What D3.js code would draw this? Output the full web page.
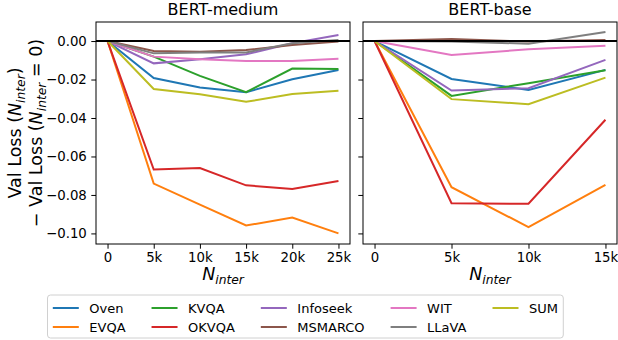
<!DOCTYPE html>
<html>
<head>
<meta charset="utf-8">
<script src="https://cdn.jsdelivr.net/npm/d3@7"></script>
<style>
  body { margin: 0; background: #fff; }
  svg { font-family: 'DejaVu Sans', sans-serif; display: block; }
</style>
</head>
<body>
<div id="chart"></div>
<script>
const categories = ['Oven', 'EVQA', 'KVQA', 'OKVQA', 'Infoseek', 'MSMARCO', 'WIT', 'LLaVA', 'SUM']
const colors = ['#1f77b4', '#ff7f0e', '#2ca02c', '#d62728', '#9467bd', '#8c564b', '#e377c2', '#7f7f7f', '#bcbd22']

// BERT-medium
const xMedium = [0, 5000, 10000, 15000, 20000, 25000]
const mediumOven = [0, -0.0192, -0.0242, -0.0266, -0.0199, -0.0150]
const mediumEVQA = [0, -0.0741, -0.0850, -0.0959, -0.0917, -0.1000]
const mediumKVQA = [0, -0.0081, -0.0181, -0.0266, -0.0143, -0.0145]
const mediumOKVQA = [0, -0.0668, -0.0660, -0.0750, -0.0769, -0.0727]
const mediumInfoseek = [0, -0.0116, -0.0095, -0.0069, -0.0012, 0.0031]
const mediumMSMARCO = [0, -0.0052, -0.0055, -0.0047, -0.0021, -0.0003]
const mediumWIT = [0, -0.0081, -0.0095, -0.0104, -0.0104, -0.0092]
const mediumLLaVA = [0, -0.0064, -0.0060, -0.0059, -0.0012, 0.0005]
const mediumSUM = [0, -0.0249, -0.0276, -0.0316, -0.0275, -0.0259]

// BERT-base
const xBase = [0, 5000, 10000, 15000]
const baseOven = [0, -0.0197, -0.0254, -0.0150]
const baseEVQA = [0, -0.0760, -0.0967, -0.0748]
const baseKVQA = [0, -0.0285, -0.0219, -0.0152]
const baseOKVQA = [0, -0.0843, -0.0846, -0.0409]
const baseInfoseek = [0, -0.0257, -0.0245, -0.0098]
const baseMSMARCO = [0, 0.0010, -0.0003, 0.0005]
const baseWIT = [0, -0.0073, -0.0043, -0.0024]
const baseLLaVA = [0, -0.0002, -0.0014, 0.0047]
const baseSUM = [0, -0.0302, -0.0328, -0.0190]

const yTicks = [0, -0.02, -0.04, -0.06, -0.08, -0.10]

const width = 618
const height = 340

const svg = d3
  .select('#chart')
  .append('svg')
  .attr('width', width)
  .attr('height', height)

const plotTop = 22
const plotBottom = 244
const tickFont = 13.3

const y = d3
  .scaleLinear()
  .domain([-0.1055, 0.0099])
  .range([plotBottom, plotTop])

const colorScale = d3.scaleOrdinal().domain(categories).range(colors)

const panels = [
  {
    title: 'BERT-medium',
    left: 96,
    right: 350,
    xs: xMedium,
    series: [mediumOven, mediumEVQA, mediumKVQA, mediumOKVQA, mediumInfoseek,
      mediumMSMARCO, mediumWIT, mediumLLaVA, mediumSUM],
    labels: true
  },
  {
    title: 'BERT-base',
    left: 363,
    right: 617,
    xs: xBase,
    series: [baseOven, baseEVQA, baseKVQA, baseOKVQA, baseInfoseek,
      baseMSMARCO, baseWIT, baseLLaVA, baseSUM],
    labels: false
  }
]

const fmtK = d => (d === 0 ? '0' : d / 1000 + 'k')
const fmtY = d => d3.format('.2f')(d).replace('-', '\u2212')

panels.forEach(function(p) {
  const xMax = d3.max(p.xs)
  const x = d3
    .scaleLinear()
    .domain([-0.05 * xMax, 1.05 * xMax])
    .range([p.left, p.right])

  const g = svg.append('g')

  const line = d3
    .line()
    .x((d, i) => x(p.xs[i]))
    .y(d => y(d))

  g.selectAll('path.series')
    .data(p.series)
    .enter()
    .append('path')
    .attr('class', 'series')
    .attr('d', d => line(d))
    .attr('fill', 'none')
    .attr('stroke', (d, i) => colorScale(categories[i]))
    .attr('stroke-width', 2)
    .attr('stroke-linejoin', 'miter')

  // zero line
  g.append('line')
    .attr('x1', p.left)
    .attr('x2', p.right)
    .attr('y1', y(0))
    .attr('y2', y(0))
    .attr('stroke', 'black')
    .attr('stroke-width', 2)

  // frame
  g.append('rect')
    .attr('x', p.left)
    .attr('y', plotTop)
    .attr('width', p.right - p.left)
    .attr('height', plotBottom - plotTop)
    .attr('fill', 'none')
    .attr('stroke', '#000')
    .attr('stroke-width', 1)

  const xAxis = g
    .append('g')
    .attr('transform', `translate(0,${plotBottom})`)
    .call(d3.axisBottom(x).tickValues(p.xs).tickFormat(fmtK).tickSize(4.7).tickPadding(4))
  xAxis.select('.domain').remove()

  const yAxis = g
    .append('g')
    .attr('transform', `translate(${p.left},0)`)
    .call(
      d3.axisLeft(y)
        .tickValues(yTicks)
        .tickFormat(p.labels ? fmtY : '')
        .tickSize(4.7)
        .tickPadding(4.5)
    )
  yAxis.select('.domain').remove()

  g.selectAll('.tick line').attr('stroke', '#000').attr('stroke-width', 1)
  g.selectAll('.tick text')
    .attr('font-size', tickFont)
    .attr('font-family', "'DejaVu Sans', sans-serif")
    .attr('fill', '#000')

  g.append('text')
    .attr('x', (p.left + p.right) / 2)
    .attr('y', 14.5)
    .attr('text-anchor', 'middle')
    .attr('font-size', 16)
    .text(p.title)

  const xl = g
    .append('text')
    .attr('x', (p.left + p.right) / 2)
    .attr('y', 280)
    .attr('text-anchor', 'middle')
    .attr('font-size', 17.5)
  xl.append('tspan').attr('font-style', 'italic').text('N')
  xl.append('tspan')
    .attr('font-style', 'italic')
    .attr('font-size', 12.3)
    .attr('dy', 4)
    .text('inter')
})

// y label, two lines
const yMid = (plotTop + plotBottom) / 2
function yLabel(xPos, prefix, suffix) {
  const t = svg
    .append('text')
    .attr('transform', `translate(${xPos},${yMid}) rotate(-90)`)
    .attr('text-anchor', 'middle')
    .attr('font-size', 17.5)
  t.append('tspan').text(prefix)
  t.append('tspan').attr('font-style', 'italic').text('N')
  t.append('tspan')
    .attr('font-style', 'italic')
    .attr('font-size', 12.3)
    .attr('dy', 4)
    .text('inter')
  t.append('tspan').attr('dy', -4).text(suffix)
}
yLabel(20.5, 'Val Loss (', ')')
yLabel(41.5, '\u2212 Val Loss (', ' = 0)')

// legend, laid out like matplotlib (ncol = 5, column-major)
const legendFont = 13
const handleLen = 26
const handlePad = 10.5
const colGap = 26
const boxPad = 5.3
const legendLeft = 47.5
const legendTop = 295
const legendHeight = 43
const rowY = [13, 32]

const legend = svg.append('g').attr('transform', `translate(${legendLeft},${legendTop})`)

const frame = legend
  .append('rect')
  .attr('height', legendHeight)
  .attr('rx', 3)
  .attr('fill', 'white')
  .attr('stroke', '#d0d0d0')
  .attr('stroke-width', 1)

const items = legend
  .selectAll('g.item')
  .data(categories)
  .enter()
  .append('g')
  .attr('class', 'item')

items
  .append('line')
  .attr('x1', 0)
  .attr('x2', handleLen)
  .attr('stroke', d => colorScale(d))
  .attr('stroke-width', 2)

items
  .append('text')
  .text(d => d)
  .attr('x', handleLen + handlePad)
  .attr('dy', '0.35em')
  .attr('font-size', legendFont)

const textWidths = []
items.select('text').each(function(d, i) {
  textWidths[i] = this.getComputedTextLength()
})

let cx = boxPad
items.each(function(d, i) {
  const col = Math.floor(i / 2)
  const row = i % 2
  d3.select(this).attr('transform', `translate(${cx},${rowY[row]})`)
  if (row === 1 || i === categories.length - 1) {
    const w = d3.max(textWidths.slice(col * 2, col * 2 + 2))
    cx += handleLen + handlePad + w + (i === categories.length - 1 ? 0 : colGap)
  }
})

frame.attr('width', cx + boxPad)
</script>
</body>
</html>
